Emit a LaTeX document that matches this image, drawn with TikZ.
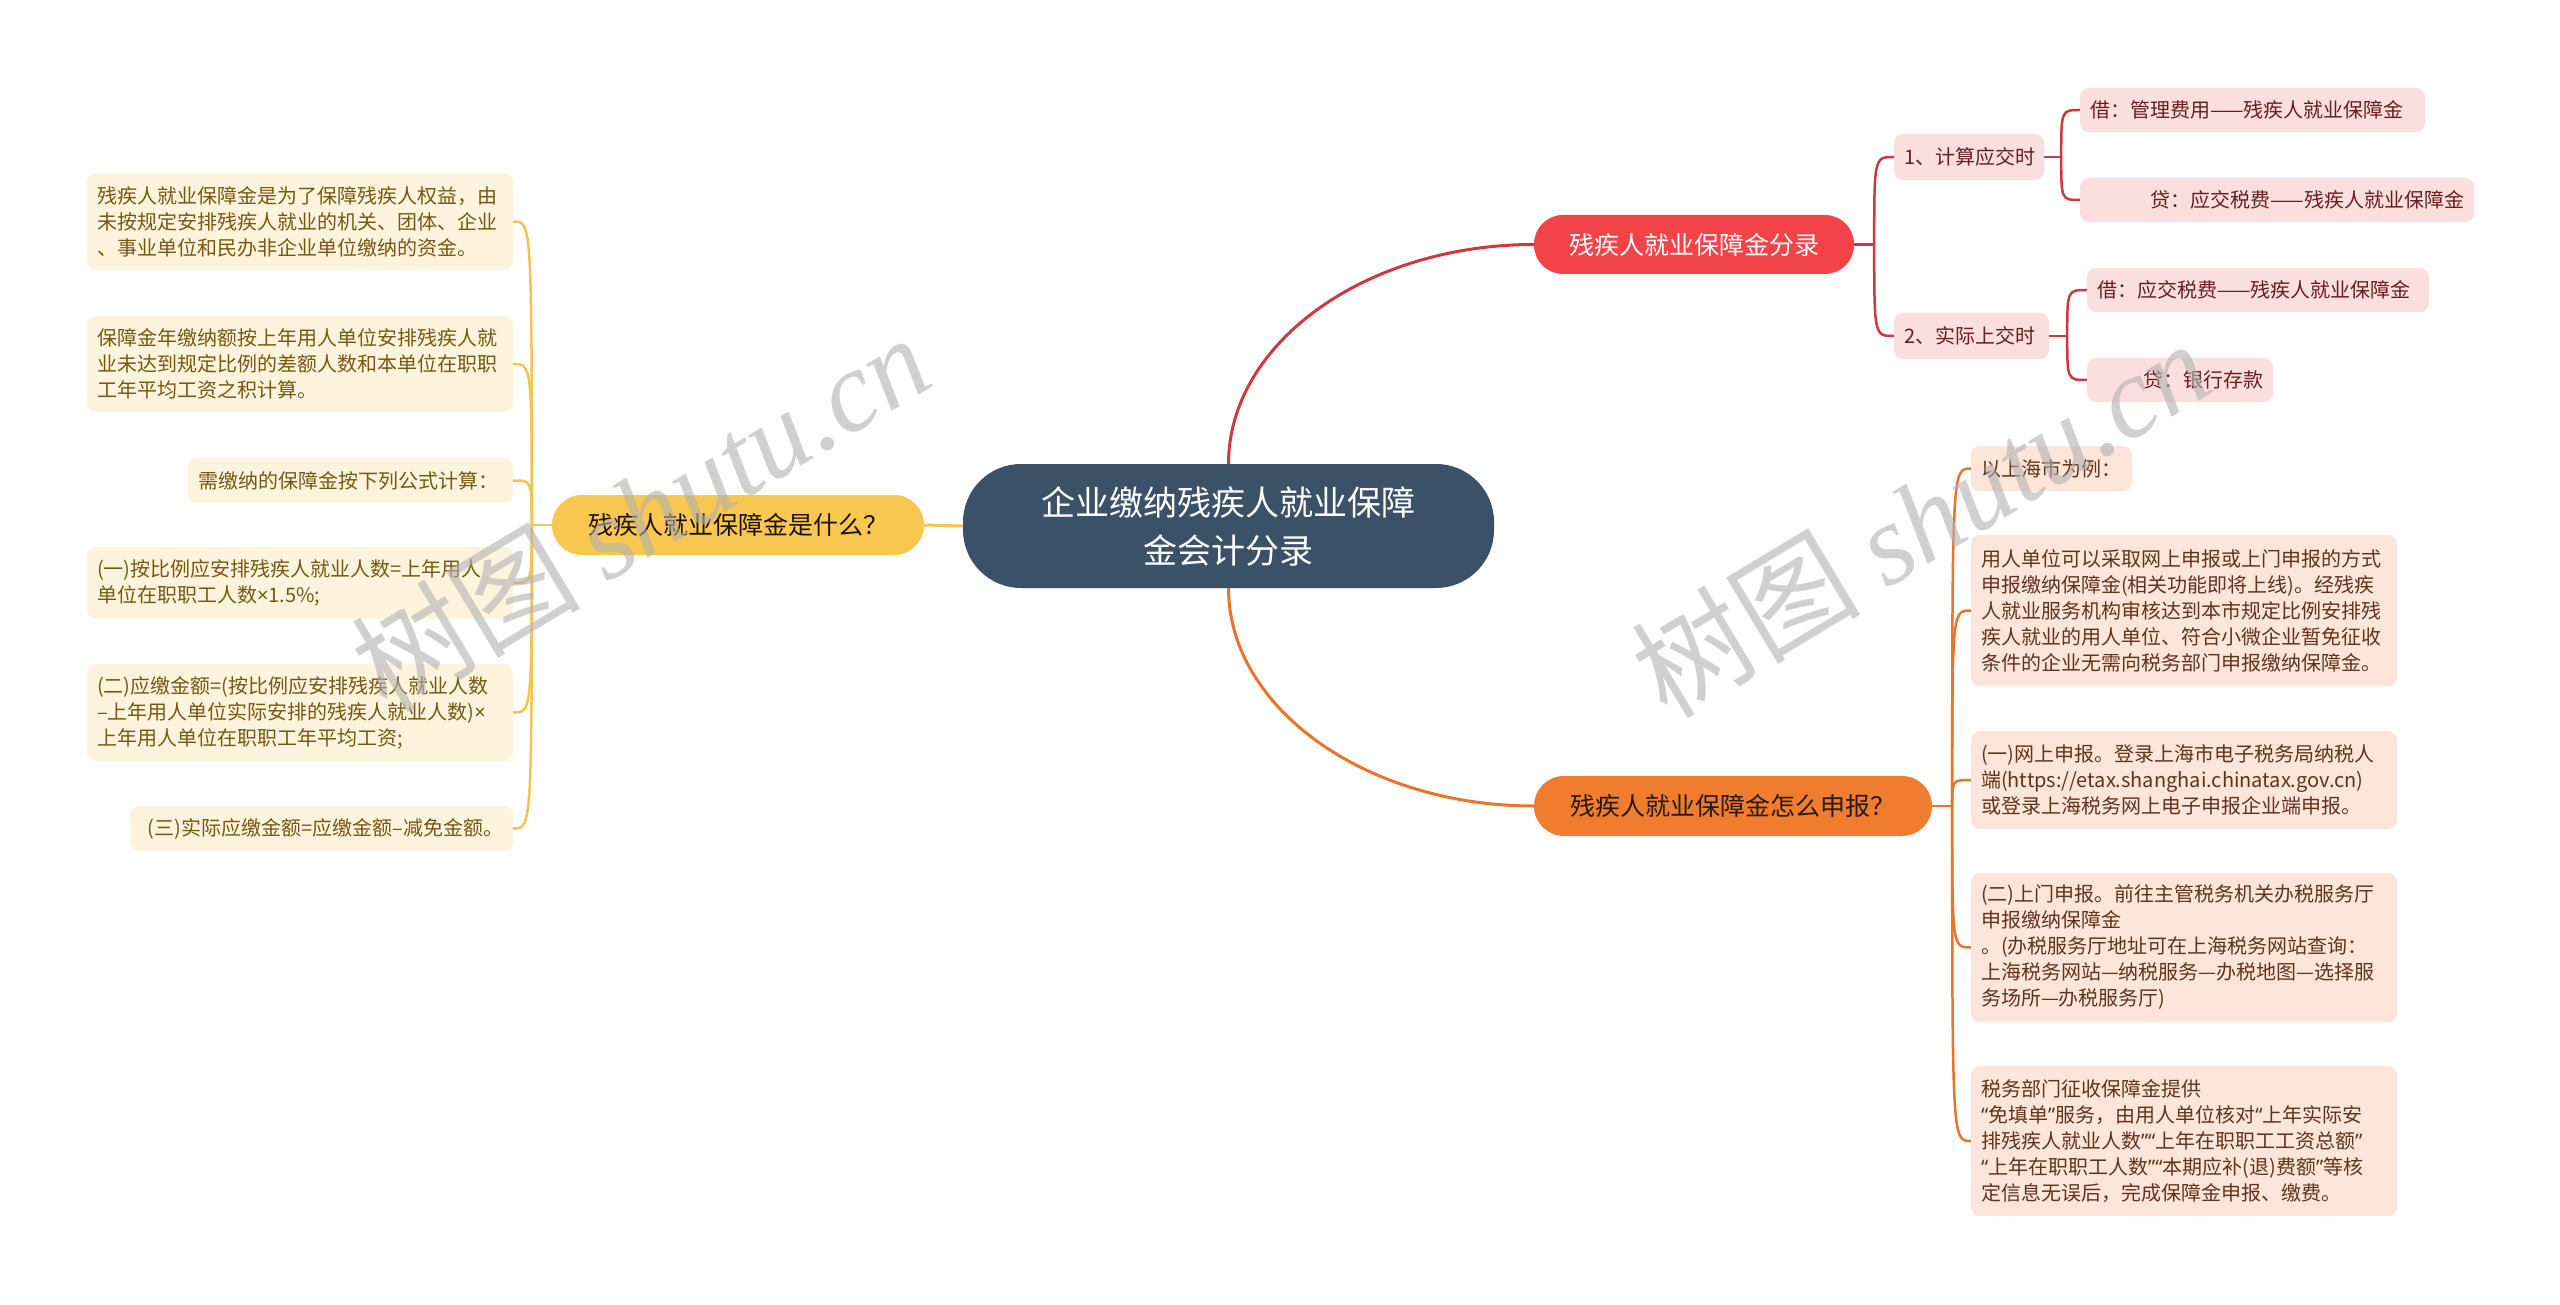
\documentclass[tikz,border=0pt]{standalone}
\usepackage{fontspec}
\setmainfont{Noto Sans CJK SC}
\newfontfamily\wmlatin{Liberation Serif}
\newfontfamily\qfont{Noto Sans}
\newcommand\myoq{{\qfont “}}
\newcommand\mycq{{\qfont ”}}
\newcommand\mytimes{{\qfont ×}}
\usetikzlibrary{calc}
\definecolor{rootbg}{RGB}{58,81,104}
\definecolor{ylwbg}{RGB}{247,199,80}
\definecolor{ylwln}{RGB}{242,196,82}
\definecolor{yleafbg}{RGB}{254,244,221}
\definecolor{yleaftx}{RGB}{118,88,18}
\definecolor{redbg}{RGB}{242,67,72}
\definecolor{redln}{RGB}{206,56,62}
\definecolor{rleafbg}{RGB}{251,222,222}
\definecolor{rleaftx}{RGB}{105,30,30}
\definecolor{orgbg}{RGB}{240,124,48}
\definecolor{orgln}{RGB}{232,117,42}
\definecolor{oleafbg}{RGB}{253,230,217}
\definecolor{oleaftx}{RGB}{96,52,28}
\tikzset{
  leafbase/.style={rounded corners=9pt, inner xsep=10pt, inner ysep=0pt,
    font=\fontsize{20}{26}\selectfont},
  yleaf/.style={leafbase, fill=yleafbg, text=yleaftx, align=left},
  rleaf/.style={leafbase, fill=rleafbg, text=rleaftx, align=left},
  oleaf/.style={leafbase, fill=oleafbg, text=oleaftx, align=left},
  mainnode/.style={inner sep=0pt, font=\fontsize{25}{30}\selectfont, align=center},
  ylwline/.style={draw=ylwln, line width=3pt},
  redline/.style={draw=redln, line width=3pt},
  orgline/.style={draw=orgln, line width=3pt},
  wmark/.style={text=gray!60, opacity=0.6, font=\fontsize{115}{115}\selectfont, inner sep=0pt},
}
\begin{document}
\begin{tikzpicture}[x=1pt,y=-1pt]
\useasboundingbox (0,0) rectangle (2560,1305);
\fill[white] (0,0) rectangle (2560,1305);

% ---------- main nodes ----------
\node[mainnode, fill=rootbg, text=white, rounded corners=58pt,
  minimum width=531pt, minimum height=124pt, font=\fontsize{34}{48}\selectfont]
  (root) at (1228.5,526) {企业缴纳残疾人就业保障\\金会计分录};
\node[mainnode, fill=ylwbg, text=black!85!brown, rounded corners=30pt,
  minimum width=372pt, minimum height=60pt] (ylw) at (738,525) {残疾人就业保障金是什么？};
\node[mainnode, fill=redbg, text=white, rounded corners=29pt,
  minimum width=320pt, minimum height=59pt] (red) at (1694,244.5) {残疾人就业保障金分录};
\node[mainnode, fill=orgbg, text=black!80!brown, rounded corners=30pt,
  minimum width=398pt, minimum height=60pt] (org) at (1733,806) {残疾人就业保障金怎么申报？};

% ---------- yellow leaves ----------
\node[yleaf, text width=406pt, minimum height=97pt] (y1) at (300,221.5)
 {残疾人就业保障金是为了保障残疾人权益，由\\未按规定安排残疾人就业的机关、团体、企业\\、事业单位和民办非企业单位缴纳的资金。};
\node[yleaf, text width=406pt, minimum height=96pt] (y2) at (300,364)
 {保障金年缴纳额按上年用人单位安排残疾人就\\业未达到规定比例的差额人数和本单位在职职\\工年平均工资之积计算。};
\node[yleaf, text width=305pt, minimum height=45pt] (y3) at (350.5,480.5)
 {需缴纳的保障金按下列公式计算：};
\node[yleaf, text width=406pt, minimum height=72pt] (y4) at (300,583)
 {(一)按比例应安排残疾人就业人数=上年用人\\单位在职职工人数\mytimes 1.5\%;};
\node[yleaf, text width=406pt, minimum height=97pt] (y5) at (300,712.5)
 {(二)应缴金额=(按比例应安排残疾人就业人数\\–上年用人单位实际安排的残疾人就业人数)\mytimes\\上年用人单位在职职工年平均工资;};
\node[yleaf, text width=363pt, minimum height=45pt, align=right] (y6) at (321.5,828.5)
 {(三)实际应缴金额=应缴金额–减免金额。};

% ---------- red sub nodes ----------
\node[rleaf, text width=130pt, minimum height=46pt] (r1) at (1969,157) {1、计算应交时};
\node[rleaf, text width=135pt, minimum height=46pt] (r2) at (1971.5,336) {2、实际上交时};
\node[rleaf, text width=325pt, minimum height=44pt] (r11) at (2252.5,110) {借：管理费用——残疾人就业保障金};
\node[rleaf, text width=374pt, minimum height=44pt, align=right] (r12) at (2277,200) {贷：应交税费——残疾人就业保障金};
\node[rleaf, text width=322pt, minimum height=44pt] (r21) at (2258,290) {借：应交税费——残疾人就业保障金};
\node[rleaf, text width=166pt, minimum height=44pt, align=right] (r22) at (2180,380) {贷：银行存款};

% ---------- orange leaves ----------
\node[oleaf, text width=141pt, minimum height=45pt] (o1) at (2051.5,468.5) {以上海市为例：};
\node[oleaf, text width=406pt, minimum height=151pt] (o2) at (2184,610.5)
 {用人单位可以采取网上申报或上门申报的方式\\申报缴纳保障金(相关功能即将上线)。经残疾\\人就业服务机构审核达到本市规定比例安排残\\疾人就业的用人单位、符合小微企业暂免征收\\条件的企业无需向税务部门申报缴纳保障金。};
\node[oleaf, text width=406pt, minimum height=98pt] (o3) at (2184,780)
 {(一)网上申报。登录上海市电子税务局纳税人\\端(https://etax.shanghai.chinatax.gov.cn)\\或登录上海税务网上电子申报企业端申报。};
\node[oleaf, text width=406pt, minimum height=149pt] (o4) at (2184,947.5)
 {(二)上门申报。前往主管税务机关办税服务厅\\申报缴纳保障金\\。(办税服务厅地址可在上海税务网站查询：\\上海税务网站—纳税服务—办税地图—选择服\\务场所—办税服务厅)};
\node[oleaf, text width=406pt, minimum height=150pt] (o5) at (2184,1141)
 {税务部门征收保障金提供\\\myoq 免填单\mycq 服务，由用人单位核对\myoq 上年实际安\\排残疾人就业人数\mycq\myoq 上年在职职工工资总额\mycq\\\myoq 上年在职职工人数\mycq\myoq 本期应补(退)费额\mycq 等核\\定信息无误后，完成保障金申报、缴费。};

% ---------- connectors ----------
\draw[ylwline] (root.west) -- (ylw.east);
\draw[redline] (root.north) .. controls ($(root.north)!0.55!(root.north |- red.west)$)
  and ($(red.west)!0.55!(root.north |- red.west)$) .. (red.west);
\draw[orgline] (root.south) .. controls ($(root.south)!0.55!(root.south |- org.west)$)
  and ($(org.west)!0.55!(root.south |- org.west)$) .. (org.west);

\draw[ylwline, line width=2.5pt] (ylw.west) -- ++(-20,0) coordinate (ys);
\foreach \n in {y1,y2,y3,y4,y5,y6}{
  \draw[ylwline, line width=2.5pt] (ys) .. controls (ys |- \n.east) and (ys |- \n.east) .. (\n.east);
}
\draw[redline, line width=2.5pt] (red.east) -- ++(20,0) coordinate (rs);
\foreach \n in {r1,r2}{
  \draw[redline, line width=2.5pt] (rs) .. controls (rs |- \n.west) and (rs |- \n.west) .. (\n.west);
}
\draw[redline, line width=2.5pt] (r1.east) -- ++(17,0) coordinate (r1s);
\foreach \n in {r11,r12}{
  \draw[redline, line width=2.5pt] (r1s) .. controls (r1s |- \n.west) and (r1s |- \n.west) .. (\n.west);
}
\draw[redline, line width=2.5pt] (r2.east) -- ++(18,0) coordinate (r2s);
\foreach \n in {r21,r22}{
  \draw[redline, line width=2.5pt] (r2s) .. controls (r2s |- \n.west) and (r2s |- \n.west) .. (\n.west);
}
\draw[orgline, line width=2.5pt] (org.east) -- ++(20,0) coordinate (os);
\foreach \n in {o1,o2,o3,o4,o5}{
  \draw[orgline, line width=2.5pt] (os) .. controls (os |- \n.west) and (os |- \n.west) .. (\n.west);
}

% ---------- watermarks ----------
\node[wmark, rotate=31] (wm1) at (640,512) {树图 {\wmlatin\itshape shutu.cn}};
\node[wmark, rotate=31] (wm2) at (1920,518) {树图 {\wmlatin\itshape shutu.cn}};
\end{tikzpicture}
\end{document}
